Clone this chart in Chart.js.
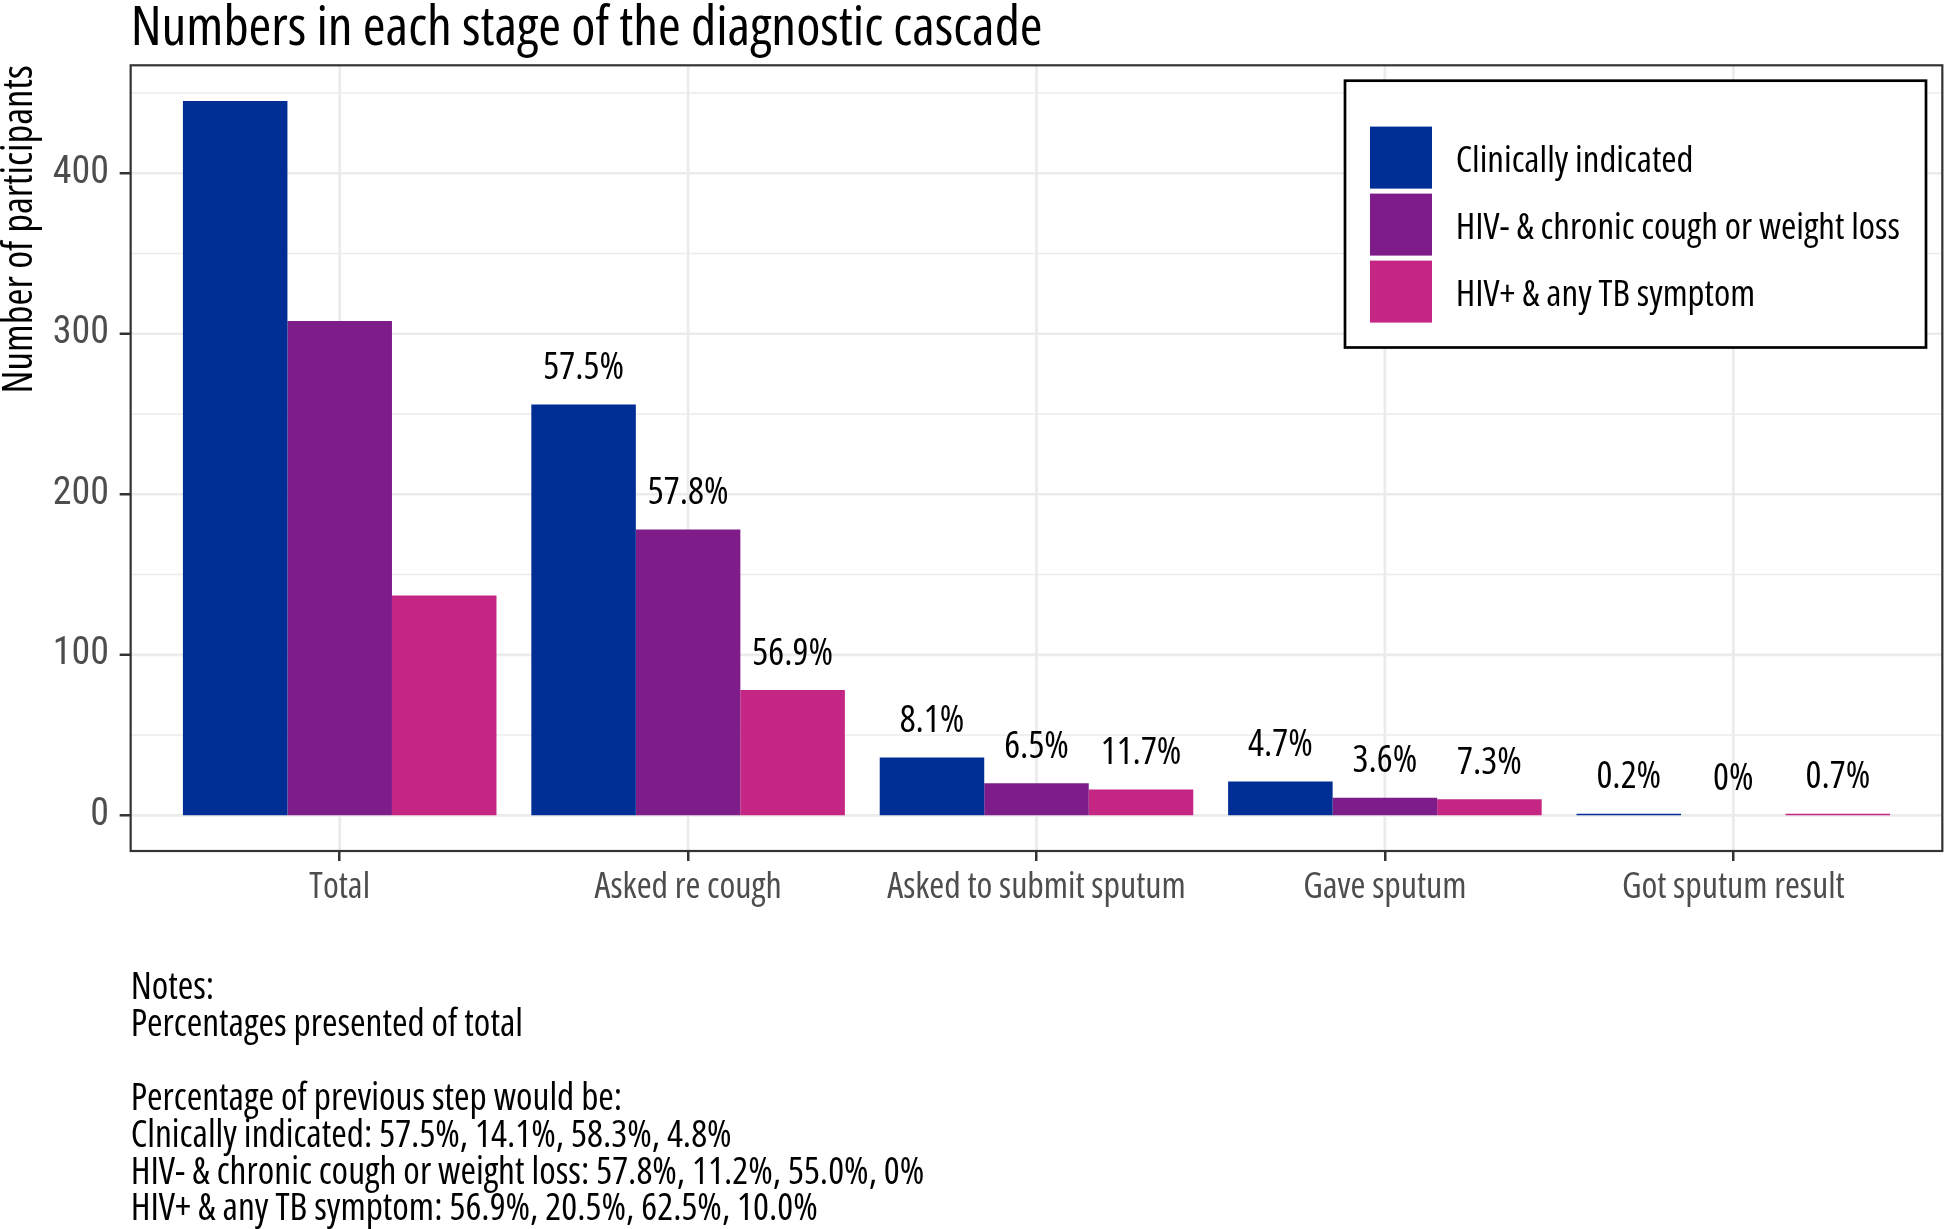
<!DOCTYPE html>
<html>
<head>
<meta charset="utf-8">
<title>Diagnostic cascade</title>
<script src="https://cdn.jsdelivr.net/npm/chart.js@4.4.1/dist/chart.umd.min.js"></script>
<style>
  html, body { margin: 0; padding: 0; background: #fff; }
  #cascadeChart { display: block; }
</style>
</head>
<body>
<canvas id="cascadeChart" width="1946" height="1229"></canvas>
<script>
// ---- data ----
const stages = ['Total', 'Asked re cough', 'Asked to submit sputum', 'Gave sputum', 'Got sputum result'];
const seriesNames = ['Clinically indicated', 'HIV- & chronic cough or weight loss', 'HIV+ & any TB symptom'];
const clinical = [445, 256, 36, 21, 1];
const hivNeg   = [308, 178, 20, 11, 0];
const hivPos   = [137, 78, 16, 10, 1];
// percentage labels printed over the bars (percent of total)
const clinicalPct = ['', '57.5%', '8.1%', '4.7%', '0.2%'];
const hivNegPct   = ['', '57.8%', '6.5%', '3.6%', '0%'];
const hivPosPct   = ['', '56.9%', '11.7%', '7.3%', '0.7%'];
const yTicks = [0, 100, 200, 300, 400];

const chartTitle = 'Numbers in each stage of the diagnostic cascade';
const noteLines = [
  'Notes:',
  'Percentages presented of total',
  '',
  'Percentage of previous step would be:',
  'Clnically indicated: 57.5%, 14.1%, 58.3%, 4.8%',
  'HIV- & chronic cough or weight loss: 57.8%, 11.2%, 55.0%, 0%',
  'HIV+ & any TB symptom: 56.9%, 20.5%, 62.5%, 10.0%'
];

const colors = ['#012E95', '#7E1C8A', '#C62683'];
const COND = "'Open Sans', 'Roboto Condensed', sans-serif";
// font-stretch goes into the weight slot of the font shorthand
const condFont = (size) => ({ family: COND, size: size, weight: '400 condensed' });
const condString = (size) => `400 condensed ${size}px ${COND}`;

// ggplot-like 5% expansion of the value range
const allValues = clinical.concat(hivNeg, hivPos);
const yTop = Math.max(...allValues) * 1.05;
const yBottom = -Math.max(...allValues) * 0.05;

const panelPlugin = {
  id: 'panel',
  beforeDatasetsDraw(chart) {
    const {ctx, chartArea, scales: {x, y}} = chart;
    const left = x.getPixelForValue(-0.6);
    const right = x.getPixelForValue(stages.length - 0.4);
    ctx.save();
    ctx.strokeStyle = '#EBEBEB';
    // minor grid between the major ticks
    ctx.lineWidth = 1.4;
    yTicks.forEach(v => {
      const m = v + 50;
      if (m > y.max) return;
      const py = y.getPixelForValue(m);
      ctx.beginPath(); ctx.moveTo(left, py); ctx.lineTo(right, py); ctx.stroke();
    });
    ctx.lineWidth = 2.7;
    yTicks.forEach(v => {
      const py = y.getPixelForValue(v);
      ctx.beginPath(); ctx.moveTo(left, py); ctx.lineTo(right, py); ctx.stroke();
    });
    stages.forEach((s, i) => {
      const px = x.getPixelForValue(i);
      ctx.beginPath(); ctx.moveTo(px, chartArea.top); ctx.lineTo(px, chartArea.bottom); ctx.stroke();
    });
    ctx.restore();
  },
  afterDatasetsDraw(chart) {
    const {ctx, chartArea, scales: {x, y}} = chart;
    const left = x.getPixelForValue(-0.6);
    const right = x.getPixelForValue(stages.length - 0.4);
    ctx.save();
    // panel border
    ctx.strokeStyle = '#333333';
    ctx.lineWidth = 2.2;
    ctx.strokeRect(left, chartArea.top, right - left, chartArea.bottom - chartArea.top);
    // y tick marks sit on the panel edge
    ctx.lineWidth = 2.5;
    yTicks.forEach(v => {
      const py = y.getPixelForValue(v);
      ctx.beginPath(); ctx.moveTo(left - 11, py); ctx.lineTo(left, py); ctx.stroke();
    });

    // percentage labels
    const pctLabels = [clinicalPct, hivNegPct, hivPosPct];
    ctx.fillStyle = '#000';
    ctx.font = condString(37.5);
    ctx.textAlign = 'center';
    ctx.textBaseline = 'alphabetic';
    chart.data.datasets.forEach((ds, di) => {
      chart.getDatasetMeta(di).data.forEach((bar, i) => {
        const txt = pctLabels[di][i];
        if (!txt) return;
        ctx.fillText(txt, bar.x, bar.y - 25.5);
      });
    });

    // legend box
    const lx = 1345, ly = 80.7, lw = 581, lh = 266.8;
    ctx.fillStyle = '#fff';
    ctx.fillRect(lx, ly, lw, lh);
    ctx.strokeStyle = '#000';
    ctx.lineWidth = 2.7;
    ctx.strokeRect(lx, ly, lw, lh);
    ctx.font = condString(37);
    ctx.textAlign = 'left';
    chart.data.datasets.forEach((ds, di) => {
      const top = 126.6 + di * 67;
      ctx.fillStyle = ds.backgroundColor;
      ctx.fillRect(1370, top, 62, 62);
      ctx.fillStyle = '#000';
      ctx.fillText(ds.label, 1455.7, top + 45);
    });
    ctx.restore();
  },
  afterDraw(chart) {
    const {ctx} = chart;
    const left = chart.scales.x.getPixelForValue(-0.6);
    ctx.save();
    ctx.fillStyle = '#000';
    ctx.textAlign = 'left';
    ctx.textBaseline = 'alphabetic';
    ctx.font = condString(55);
    ctx.fillText(chartTitle, left, 44.7);
    ctx.font = condString(37.5);
    noteLines.forEach((line, i) => {
      if (line) ctx.fillText(line, left, 999 + i * 36.9);
    });
    ctx.restore();
  }
};

const cascadeChart = new Chart(document.getElementById('cascadeChart'), {
  type: 'bar',
  plugins: [panelPlugin],
  data: {
    labels: stages,
    datasets: [
      { label: seriesNames[0], data: clinical, backgroundColor: colors[0] },
      { label: seriesNames[1], data: hivNeg, backgroundColor: colors[1] },
      { label: seriesNames[2], data: hivPos, backgroundColor: colors[2] }
    ]
  },
  options: {
    responsive: false,
    animation: false,
    layout: { padding: { top: 65.3, right: 38.5, bottom: 0, left: 0 } },
    datasets: { bar: { categoryPercentage: 0.9, barPercentage: 1.0, borderWidth: 0 } },
    plugins: {
      legend: { display: false },
      tooltip: { enabled: false },
      title: { display: false }
    },
    scales: {
      x: {
        offset: true,
        border: { display: false },
        grid: { display: true, drawOnChartArea: false, drawTicks: true, tickLength: 10, offset: false, color: '#333333', lineWidth: 2.5 },
        ticks: { color: '#4D4D4D', font: condFont(36), padding: 5, maxRotation: 0, autoSkip: false },
        afterFit(scale) { scale.height = 378; }
      },
      y: {
        min: yBottom,
        max: yTop,
        border: { display: false },
        grid: { display: false, drawTicks: false },
        ticks: { color: '#4D4D4D', font: { family: "'Roboto Condensed', Roboto, sans-serif", size: 38 }, padding: 56.5 },
        afterBuildTicks(scale) { scale.ticks = yTicks.map(v => ({ value: v })); },
        afterFit(scale) {
          scale.width = 165.5;
          // the big tick padding would otherwise push the chart area down
          scale.paddingTop = 0;
          scale.paddingBottom = 0;
        },
        title: {
          display: true,
          text: 'Number of participants',
          align: 'end',
          color: '#000',
          font: { family: COND, size: 41, weight: '400 condensed', lineHeight: 0.8 },
          padding: { top: 4, bottom: 0 }
        }
      }
    }
  }
});
</script>
</body>
</html>
